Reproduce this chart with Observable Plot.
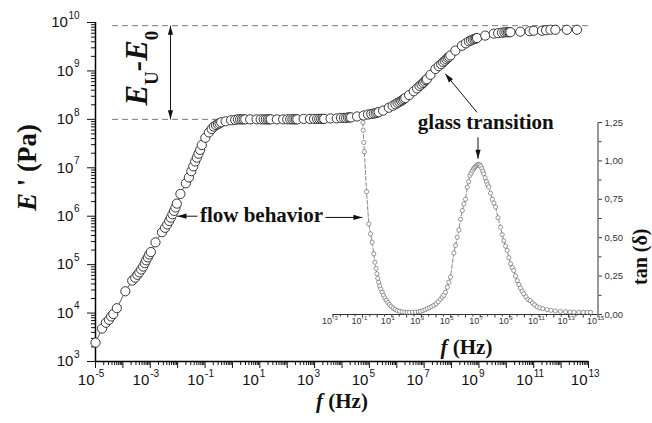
<!DOCTYPE html>
<html>
<head>
<meta charset="utf-8">
<script src="https://cdn.jsdelivr.net/npm/d3@7"></script>
<script src="https://cdn.jsdelivr.net/npm/@observablehq/plot@0.6"></script>
<style>
  body { margin: 0; background: #fff; }
  #wrap { position: relative; width: 652px; height: 423px; }
  #wrap svg { position: absolute; left: 0; top: 0; }
</style>
</head>
<body>
<div id="wrap"></div>
<script>
// ---------- main curve: storage modulus master curve ----------
// log10 of frequency (Hz)
const logFreqE = [
  -5.00,-4.76,-4.62,-4.51,-4.43,-4.35,-4.22,
  -3.91,-3.66,-3.55,-3.47,-3.40,-3.33,-3.26,-3.20,-3.15,-3.09,-3.04,-2.98,
  -2.81,-2.57,-2.46,-2.38,-2.31,-2.25,-2.19,-2.13,-2.08,-2.03,
  -1.90,-1.70,-1.59,-1.50,-1.43,-1.36,-1.30,-1.24,-1.18,-1.12,
  -0.99,-0.86,-0.76,-0.68,-0.60,-0.53,-0.47,-0.41,
  -0.25,-0.05,0.10,0.20,0.28,0.35,0.41,0.47,
  0.65,0.88,1.03,1.14,1.22,1.29,1.35,1.40,
  1.62,1.85,2.00,2.11,2.19,2.26,2.32,2.37,
  2.60,2.83,2.98,3.09,3.17,3.24,3.30,3.35,
  3.58,3.81,3.96,4.07,4.15,4.22,4.28,4.33,
  4.55,4.79,4.95,5.07,5.16,5.23,5.29,5.34,
  5.50,5.71,5.85,5.95,6.03,6.10,6.16,6.21,6.26,6.31,
  6.45,6.62,6.74,6.83,6.90,6.96,7.01,7.06,7.10,
  7.23,7.41,7.53,7.62,7.69,7.75,7.81,7.86,7.91,7.96,
  8.14,8.38,8.52,8.63,8.71,8.78,8.84,8.89,8.93,
  9.23,9.54,9.70,9.84,9.93,10.00,10.06,10.11,10.15,
  10.51,10.85,11.00,11.30,11.45,11.61,11.79,12.21,12.58
];
// log10 of E' (Pa)
const logStorage = [
  3.39,3.68,3.80,3.86,3.93,3.98,4.10,
  4.45,4.67,4.73,4.79,4.84,4.90,4.96,5.03,5.09,5.15,5.21,5.26,
  5.46,5.67,5.76,5.83,5.90,5.97,6.04,6.11,6.18,6.26,
  6.46,6.68,6.80,6.93,7.03,7.13,7.21,7.29,7.37,7.47,
  7.62,7.73,7.80,7.85,7.88,7.90,7.92,7.94,
  7.96,7.98,7.99,8.00,8.00,8.00,8.00,8.00,
  8.00,8.00,8.00,8.00,8.00,8.00,8.00,8.00,
  8.00,8.00,8.00,8.00,8.00,8.00,8.00,8.00,
  8.01,8.01,8.01,8.01,8.01,8.01,8.01,8.01,
  8.02,8.02,8.03,8.03,8.03,8.04,8.04,8.04,
  8.06,8.08,8.10,8.11,8.12,8.13,8.14,8.15,
  8.18,8.24,8.28,8.31,8.34,8.36,8.38,8.40,8.42,8.44,
  8.50,8.58,8.64,8.69,8.72,8.75,8.78,8.81,8.83,
  8.92,9.04,9.10,9.14,9.18,9.21,9.24,9.27,9.29,9.32,
  9.42,9.52,9.57,9.61,9.63,9.65,9.66,9.67,9.68,
  9.73,9.77,9.78,9.79,9.795,9.80,9.80,9.80,9.80,
  9.81,9.82,9.83,9.83,9.84,9.85,9.85,9.85,9.85
];

// ---------- inset: loss factor tan(delta) ----------
const logFreqTan = [
  -0.97,-0.95,-0.91,-0.87,-0.72,-0.57,-0.45,-0.34,-0.23,-0.15,-0.08,-0.02,
  0.04,0.10,0.17,0.25,0.34,0.43,0.52,0.62,0.72,0.83,0.95,1.08,1.22,1.36,
  1.52,1.70,1.88,2.04,2.20,2.40,2.60,2.80,2.94,3.10,3.25,3.40,3.55,3.70,
  3.85,4.00,4.15,4.30,4.42,4.53,4.64,4.76,4.87,4.98,5.21,5.32,5.44,5.55,
  5.66,5.78,5.89,6.00,6.12,6.21,6.30,6.38,6.46,6.54,6.61,6.68,6.75,6.82,
  6.90,6.97,7.04,7.11,7.18,7.24,7.33,7.42,7.50,7.58,7.70,7.82,7.93,8.04,
  8.21,8.38,8.49,8.60,8.72,8.83,8.95,9.06,9.17,9.28,9.40,9.51,9.62,9.73,
  9.85,9.96,10.10,10.25,10.40,10.55,10.70,10.87,11.05,11.25,11.55,11.80,
  12.10,12.45,12.80,13.10,13.36,13.70,14.00,14.27,14.50
];
const tanDelta = [
  1.25,1.20,1.12,1.06,0.80,0.59,0.525,0.47,0.395,0.34,0.30,0.265,
  0.235,0.21,0.185,0.165,0.145,0.125,0.108,0.092,0.078,0.065,0.053,0.042,0.033,0.026,
  0.021,0.017,0.015,0.014,0.014,0.015,0.016,0.018,0.020,0.025,0.031,0.038,0.045,0.052,
  0.060,0.070,0.083,0.100,0.113,0.125,0.145,0.178,0.21,0.243,0.40,0.45,0.503,0.55,
  0.62,0.677,0.72,0.75,0.829,0.865,0.905,0.92,0.935,0.948,0.957,0.963,0.970,0.975,
  0.977,0.974,0.965,0.950,0.933,0.916,0.89,0.865,0.845,0.83,0.79,0.75,0.725,0.70,
  0.63,0.568,0.52,0.48,0.445,0.417,0.37,0.33,0.305,0.286,0.25,0.22,0.195,0.172,
  0.152,0.135,0.115,0.097,0.09,0.075,0.062,0.050,0.043,0.038,0.032,0.027,
  0.023,0.020,0.018,0.016,0.015,0.015,0.014,0.014,0.014
];

// ---------- tick labels ----------
const mainXExp = [-5, -3, -1, 1, 3, 5, 7, 9, 11, 13];
const mainYExp = [3, 4, 5, 6, 7, 8, 9, 10];
const insetXExp = [-3, -1, 1, 3, 5, 7, 9, 11, 13, 15];
const insetYTicks = [0, 0.25, 0.5, 0.75, 1.0, 1.25];
const insetYLabels = ["0,00", "0,25", "0,50", "0,75", "1,00", "1,25"];

// ---------- annotation levels ----------
const E_U = 8.6e9;
const E_0 = 1.0e8;

// ---------- tables ----------
const storage = logFreqE.map((lf, i) => ({f: 10 ** lf, E: 10 ** logStorage[i]}));
const loss = logFreqTan.map((lf, i) => ({f: 10 ** lf, tan: tanDelta[i]}));

const mainXMajor = d3.range(-5, 14).map(k => 10 ** k);
const mainXMinor = d3.range(-5, 13).flatMap(k => d3.range(2, 10).map(m => m * 10 ** k));
const mainYMajor = d3.range(3, 11).map(k => 10 ** k);
const mainYMinor = d3.range(3, 10).flatMap(k => d3.range(2, 10).map(m => m * 10 ** k));
const insetXMajor = d3.range(-3, 16).map(k => 10 ** k);
const insetXMinor = d3.range(-3, 15).map(k => 10 ** (k + 0.5));
const insetYMinor = [0.125, 0.375, 0.625, 0.875, 1.125];

const SERIF = "'Liberation Serif', 'Times New Roman', serif";
const SANS = "'Liberation Sans', Arial, sans-serif";

// arrow annotations (data coordinates, main plot)
const arrowsMain = [
  {f1: 5.46e-3, E1: E_0, f2: 5.46e-3, E2: E_U},
  {f1: 10 ** 8.93, E1: 10 ** 8.145, f2: 10 ** 7.77, E2: 10 ** 8.94},
  {f1: 10 ** -1.277, E1: 1.0e6, f2: 10 ** -2.007, E2: 1.0e6},
  {f1: 10 ** 3.394, E1: 10 ** 5.975, f2: 10 ** 4.745, E2: 10 ** 5.975}
];
const arrowInset = [{f1: 10 ** 6.85, t1: 1.154, f2: 10 ** 6.85, t2: 1.014}];

// scales mirroring the plot's, used only to orient arrowheads
const xs = d3.scaleLog([1e-5, 1e13], [95, 588]);
const ys = d3.scaleLog([1e3, 1e10], [361, 22]);

function head(dx, dy) {
  const n = Math.hypot(dx, dy), ux = dx / n, uy = dy / n;
  const L = 9, W = 2.6;
  return {draw(ctx) {
    ctx.moveTo(0, 0);
    ctx.lineTo(-ux * L - uy * W, -uy * L + ux * W);
    ctx.lineTo(-ux * L + uy * W, -uy * L - ux * W);
    ctx.closePath();
  }};
}
function headFor(a) {
  return head(xs(a.f2) - xs(a.f1), ys(a.E2) - ys(a.E1));
}

const headMarks = [];
arrowsMain.forEach(a => {
  headMarks.push(Plot.dot([a], {x: "f2", y: "E2", r: 3, symbol: headFor(a), fill: "#111", stroke: "none"}));
});
headMarks.push(Plot.dot([arrowsMain[0]], {x: "f1", y: "E1", r: 3, symbol: head(0, 1), fill: "#111", stroke: "none"}));

const main = Plot.plot({
  width: 652, height: 423,
  marginLeft: 95, marginRight: 64, marginTop: 22, marginBottom: 62,
  style: {background: "white", fontFamily: SANS, overflow: "visible"},
  x: {type: "log", domain: [1e-5, 1e13]},
  y: {type: "log", domain: [1e3, 1e10]},
  marks: [
    Plot.ruleY([E_U], {x1: 4.2e-5, x2: 1e13, stroke: "#777", strokeDasharray: "6,4", strokeWidth: 1}),
    Plot.ruleY([E_0], {x1: 4.2e-5, x2: 1.2, stroke: "#777", strokeDasharray: "6,4", strokeWidth: 1}),
    Plot.axisX({ticks: mainXMinor, tickSize: 4, tickFormat: () => "", label: null, stroke: "#111"}),
    Plot.axisX({ticks: mainXMajor, tickSize: 7, tickFormat: () => "", label: null, stroke: "#111"}),
    Plot.axisY({ticks: mainYMinor, tickSize: 4, tickFormat: () => "", label: null, stroke: "#111"}),
    Plot.axisY({ticks: mainYMajor, tickSize: 8, tickFormat: () => "", label: null, stroke: "#111"}),
    Plot.ruleX([1e-5], {stroke: "#000", strokeWidth: 1.5}),
    Plot.ruleY([1e3], {stroke: "#000", strokeWidth: 1.5}),
    // x tick labels
    Plot.text(mainXExp, {x: k => 10 ** k, frameAnchor: "bottom", dy: 23, dx: -1, textAnchor: "end",
      text: () => "10", fontSize: 15, fill: "#111"}),
    Plot.text(mainXExp, {x: k => 10 ** k, frameAnchor: "bottom", dy: 15, dx: 0, textAnchor: "start",
      text: k => String(k), fontSize: 10, fill: "#111"}),
    // y tick labels
    Plot.text(mainYExp.filter(k => String(k).length === 1), {y: k => 10 ** k, frameAnchor: "left", dx: -22.1,
      textAnchor: "end", text: () => "10", fontSize: 15, fill: "#111"}),
    Plot.text(mainYExp.filter(k => String(k).length === 2), {y: k => 10 ** k, frameAnchor: "left", dx: -27.6,
      textAnchor: "end", text: () => "10", fontSize: 15, fill: "#111"}),
    Plot.text(mainYExp, {y: k => 10 ** k, frameAnchor: "left", dx: -16, dy: -7, textAnchor: "end",
      text: k => String(k), fontSize: 10, fill: "#111"}),
    // data
    Plot.line(storage, {x: "f", y: "E", stroke: "#333", strokeWidth: 0.8}),
    Plot.dot(storage, {x: "f", y: "E", r: 4.6, fill: "white", stroke: "#222", strokeWidth: 0.9}),
    // arrows
    Plot.link(arrowsMain, {x1: "f1", y1: "E1", x2: "f2", y2: "E2", stroke: "#111", strokeWidth: 1}),
    ...headMarks,
    // annotation texts
    Plot.text(["flow behavior"], {x: 10 ** 1.06, y: 10 ** 6.01, fontFamily: SERIF, fontWeight: "bold", fontSize: 21, fill: "#111"}),
    Plot.text(["glass transition"], {x: 10 ** 9.25, y: 10 ** 7.946, fontFamily: SERIF, fontWeight: "bold", fontSize: 21, fill: "#111"}),
    Plot.text(["EU-E0"], {x: 10 ** -3.467, y: 10 ** 9.058, rotate: -90, fontFamily: SERIF, fontWeight: "bold",
      fontSize: 31, fill: "#111"}),
    // axis titles
    Plot.text(["E ' (Pa)"], {frameAnchor: "left", dx: -68, dy: 19, rotate: -90, fontFamily: SERIF, fontWeight: "bold",
      fontSize: 27, fill: "#111"}),
    Plot.text(["f (Hz)"], {frameAnchor: "bottom", dx: 0, dy: 46, fontFamily: SERIF, fontWeight: "bold",
      fontSize: 21, fill: "#111"})
  ]
});

const inset = Plot.plot({
  width: 652, height: 423,
  marginLeft: 332.5, marginRight: 54.5, marginTop: 122, marginBottom: 109,
  style: {background: "transparent", fontFamily: SANS, overflow: "visible"},
  x: {type: "log", domain: [1e-3, 1e15]},
  y: {domain: [0, 1.25]},
  marks: [
    Plot.axisX({ticks: insetXMinor, tickSize: 2.5, tickFormat: () => "", label: null, stroke: "#333"}),
    Plot.axisX({ticks: insetXMajor, tickSize: 3.5, tickFormat: () => "", label: null, stroke: "#333"}),
    Plot.axisY({anchor: "right", ticks: insetYMinor, tickSize: 3, tickFormat: () => "", label: null, stroke: "#333"}),
    Plot.axisY({anchor: "right", ticks: insetYTicks, tickSize: 3.5, tickPadding: 3,
      tickFormat: d => insetYLabels[insetYTicks.indexOf(d)], label: null, stroke: "#333", fill: "#333", fontSize: 9.5}),
    Plot.ruleY([0], {stroke: "#333", strokeWidth: 1}),
    Plot.ruleX([1e15], {stroke: "#333", strokeWidth: 1}),
    Plot.text(insetXExp, {x: k => 10 ** k, frameAnchor: "bottom", dy: 9, dx: -1, textAnchor: "end",
      text: () => "10", fontSize: 9, fill: "#333"}),
    Plot.text(insetXExp, {x: k => 10 ** k, frameAnchor: "bottom", dy: 5, dx: -0.5, textAnchor: "start",
      text: k => String(k), fontSize: 6, fill: "#333"}),
    Plot.line(loss, {x: "f", y: "tan", stroke: "#555", strokeWidth: 0.7, strokeDasharray: "4,2"}),
    Plot.dot(loss, {x: "f", y: "tan", r: 2.1, fill: "white", stroke: "#555", strokeWidth: 0.6}),
    Plot.link(arrowInset, {x1: "f1", y1: "t1", x2: "f2", y2: "t2", stroke: "#111", strokeWidth: 1}),
    Plot.dot(arrowInset, {x: "f2", y: "t2", r: 3, symbol: head(0, 1), fill: "#111", stroke: "none"}),
    Plot.text(["f (Hz)"], {frameAnchor: "bottom", dx: 1, dy: 39, fontFamily: SERIF, fontWeight: "bold",
      fontSize: 21, fill: "#111"}),
    Plot.text(["tan (δ)"], {frameAnchor: "right", dx: 42.5, dy: 10, rotate: -90, fontFamily: SERIF, fontWeight: "bold",
      fontSize: 20, fill: "#111"})
  ]
});

// rich text (italic symbols, subscripts) built from the label strings above
const NS = "http://www.w3.org/2000/svg";
function rich(svg, label, parts) {
  svg.querySelectorAll("text").forEach(t => {
    if (t.textContent !== label) return;
    while (t.firstChild) t.removeChild(t.firstChild);
    for (const p of parts) {
      const s = document.createElementNS(NS, "tspan");
      s.textContent = p.t;
      if (p.italic !== undefined) s.setAttribute("font-style", p.italic ? "italic" : "normal");
      if (p.size) s.setAttribute("font-size", p.size);
      if (p.dy) s.setAttribute("dy", p.dy);
      t.appendChild(s);
    }
  });
}
rich(main, "EU-E0", [
  {t: "E", italic: true}, {t: "U", italic: false, size: 19, dy: 11},
  {t: "-E", italic: true, dy: -11}, {t: "0", italic: false, size: 19, dy: 11}
]);
rich(main, "E ' (Pa)", [{t: "E", italic: true}, {t: " ' (Pa)", italic: false}]);
rich(main, "f (Hz)", [{t: "f", italic: true}, {t: " (Hz)", italic: false}]);
rich(inset, "f (Hz)", [{t: "f", italic: true}, {t: " (Hz)", italic: false}]);

const wrap = document.getElementById("wrap");
wrap.appendChild(main);
wrap.appendChild(inset);
</script>
</body>
</html>
